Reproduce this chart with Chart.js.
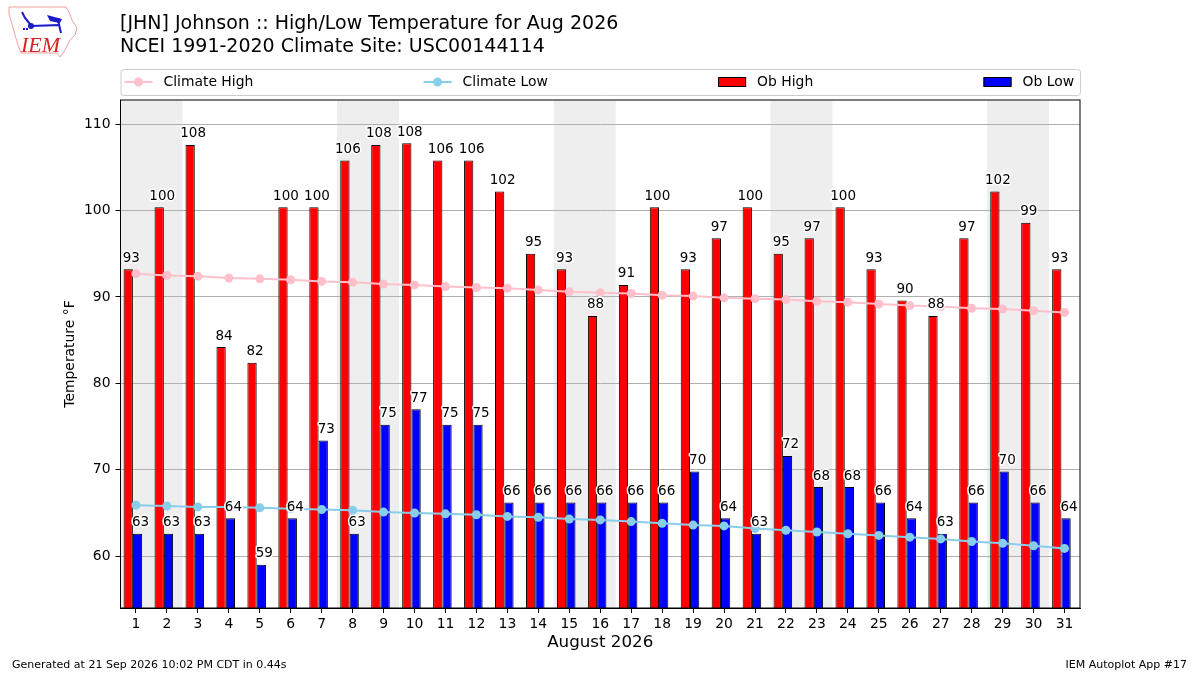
<!DOCTYPE html>
<html>
<head>
<meta charset="utf-8">
<title>[JHN] Johnson :: High/Low Temperature for Aug 2026</title>
<script src="https://cdn.jsdelivr.net/npm/chart.js@4.4.1/dist/chart.umd.min.js"></script>
<style>
  html, body { margin: 0; padding: 0; background: #ffffff; }
  #wrap { position: relative; width: 1200px; height: 675px; }
</style>
</head>
<body>
<div id="wrap"><canvas id="chart" width="1200" height="675"></canvas></div>
<script>
// values (deg F)
var days = [1, 2, 3, 4, 5, 6, 7, 8, 9, 10, 11, 12, 13, 14, 15, 16,
            17, 18, 19, 20, 21, 22, 23, 24, 25, 26, 27, 28, 29, 30, 31];

var obHigh = [93.2, 100.4, 107.6, 84.2, 82.4, 100.4, 100.4, 105.8, 107.6, 107.8, 105.8, 105.8, 102.2, 95.0, 93.2, 87.8,
              91.4, 100.4, 93.2, 96.8, 100.4, 95.0, 96.8, 100.4, 93.2, 89.6, 87.8, 96.8, 102.2, 98.6, 93.2];

var obLow = [62.6, 62.6, 62.6, 64.4, 59.0, 64.4, 73.4, 62.6, 75.2, 77.0, 75.2, 75.2, 66.2, 66.2, 66.2, 66.2,
             66.2, 66.2, 69.8, 64.4, 62.6, 71.6, 68.0, 68.0, 66.2, 64.4, 62.6, 66.2, 69.8, 66.2, 64.4];

var climateHigh = [92.7, 92.5, 92.4, 92.2, 92.1, 92.0, 91.8, 91.7, 91.5, 91.4, 91.2, 91.1, 91.0, 90.8, 90.6, 90.5,
                   90.4, 90.2, 90.1, 89.9, 89.8, 89.7, 89.5, 89.4, 89.2, 89.0, 88.9, 88.7, 88.6, 88.4, 88.2];

var climateLow = [65.9, 65.8, 65.7, 65.7, 65.6, 65.5, 65.4, 65.3, 65.1, 65.0, 64.9, 64.8, 64.6, 64.5, 64.3, 64.2,
                  64.0, 63.8, 63.6, 63.5, 63.2, 63.0, 62.8, 62.6, 62.4, 62.2, 62.0, 61.7, 61.5, 61.2, 60.9];

var titleLines = ['[JHN] Johnson :: High/Low Temperature for Aug 2026',
                  'NCEI 1991-2020 Climate Site: USC00144114'];
var footerLeft = 'Generated at 21 Sep 2026 10:02 PM CDT in 0.44s';
var footerRight = 'IEM Autoplot App #17';

var FONT = '"DejaVu Sans", "Liberation Sans", sans-serif';
Chart.defaults.font.family = FONT;
Chart.defaults.color = '#000';

// weekend shading (saturday + sunday), drawn under the grid
var weekendBands = {
    id: 'weekendBands',
    beforeDraw: function (chart) {
        var ctx = chart.ctx, area = chart.chartArea, xs = chart.scales.x;
        ctx.save();
        ctx.fillStyle = '#eeeeee';
        days.forEach(function (d) {
            if (new Date(2026, 7, d).getDay() !== 6) return;
            var x0 = Math.max(xs.getPixelForValue(d - 0.5), area.left);
            var x1 = Math.min(xs.getPixelForValue(d + 1.5), area.right);
            ctx.fillRect(x0, area.top, x1 - x0, area.bottom - area.top);
        });
        ctx.restore();
    }
};

// rounded value above every bar, with a white halo
var barLabels = {
    id: 'barLabels',
    afterDatasetsDraw: function (chart) {
        var ctx = chart.ctx;
        ctx.save();
        ctx.font = '13.5px ' + FONT;
        ctx.textAlign = 'center';
        ctx.textBaseline = 'alphabetic';
        ctx.lineJoin = 'round';
        chart.data.datasets.forEach(function (ds, i) {
            if (ds.type !== 'bar') return;
            chart.getDatasetMeta(i).data.forEach(function (bar, j) {
                var txt = String(Math.round(ds.data[j].y));
                var tx = bar.x + 3, ty = bar.y - 7.5;
                ctx.strokeStyle = '#ffffff';
                ctx.lineWidth = 3;
                ctx.strokeText(txt, tx, ty);
                ctx.fillStyle = '#000000';
                ctx.fillText(txt, tx, ty);
            });
        });
        ctx.restore();
    }
};

function drawLogo(ctx) {
    ctx.save();
    ctx.strokeStyle = '#f2a0a0';
    ctx.lineWidth = 1;
    ctx.beginPath();
    var pts = [[9, 7], [66, 7], [69, 12], [72, 20], [77, 28], [75, 35], [70, 40], [67, 46], [64, 52],
               [60, 57], [57, 53], [21, 53], [18, 45], [15, 35], [12, 24], [9, 14]];
    pts.forEach(function (p, i) { if (i === 0) ctx.moveTo(p[0], p[1]); else ctx.lineTo(p[0], p[1]); });
    ctx.closePath();
    ctx.stroke();

    ctx.strokeStyle = '#1a1acc';
    ctx.fillStyle = '#1a1acc';
    ctx.lineWidth = 2;
    ctx.beginPath();
    ctx.moveTo(31, 26); ctx.lineTo(60, 25);
    ctx.moveTo(22, 12); ctx.lineTo(25, 18); ctx.lineTo(30, 24);
    ctx.moveTo(58, 20); ctx.lineTo(61, 33);
    ctx.stroke();
    ctx.beginPath();
    ctx.moveTo(47, 15); ctx.lineTo(62, 19); ctx.lineTo(60, 23); ctx.lineTo(50, 21);
    ctx.closePath();
    ctx.fill();
    ctx.beginPath();
    ctx.arc(31, 26, 3, 0, Math.PI * 2);
    ctx.fill();
    ctx.fillRect(23, 28, 2, 2);
    ctx.fillRect(26, 28, 2, 2);

    ctx.fillStyle = '#dd2222';
    ctx.font = 'italic 22px "Liberation Serif", "DejaVu Serif", serif';
    ctx.textBaseline = 'alphabetic';
    ctx.textAlign = 'left';
    ctx.fillText('IEM', 21, 52);
    ctx.restore();
}

// frame, titles, legend box, footer, logo
var decorations = {
    id: 'decorations',
    afterDraw: function (chart) {
        var ctx = chart.ctx, area = chart.chartArea;
        ctx.save();

        ctx.strokeStyle = '#000';
        ctx.lineWidth = 1;
        ctx.strokeRect(area.left, area.top, area.right - area.left, area.bottom - area.top);

        ctx.fillStyle = '#000';
        ctx.textAlign = 'left';
        ctx.textBaseline = 'middle';
        ctx.font = '19px ' + FONT;
        ctx.fillText(titleLines[0], 120, 24);
        ctx.fillText(titleLines[1], 120, 47);

        // legend, spread over the width of the plot like an expanded legend
        var lx = area.left, ly = 69, lw = area.right - area.left, lh = 26;
        ctx.beginPath();
        ctx.roundRect(lx + 0.5, ly + 0.5, lw, lh, 3);
        ctx.fillStyle = 'rgba(255,255,255,0.8)';
        ctx.fill();
        ctx.strokeStyle = '#cccccc';
        ctx.stroke();

        var order = ['Climate High', 'Climate Low', 'Ob High', 'Ob Low'];
        var items = order.map(function (name) {
            return chart.data.datasets.filter(function (d) { return d.label === name; })[0];
        });
        ctx.font = '13.9px ' + FONT;
        var handle = 28, pad = 11;
        var widths = items.map(function (d) { return handle + pad + ctx.measureText(d.label).width; });
        var startX = lx + 4, endX = lx + lw - 6;
        var total = widths.reduce(function (a, b) { return a + b; }, 0);
        var gap = (endX - startX - total) / (items.length - 1);
        var cy = ly + 13;
        var cx = startX;
        items.forEach(function (d, i) {
            if (d.type === 'line') {
                ctx.strokeStyle = d.borderColor;
                ctx.lineWidth = 2;
                ctx.beginPath();
                ctx.moveTo(cx, cy); ctx.lineTo(cx + handle, cy);
                ctx.stroke();
                ctx.fillStyle = d.borderColor;
                ctx.beginPath();
                ctx.arc(cx + handle / 2, cy, 4.5, 0, Math.PI * 2);
                ctx.fill();
            } else {
                ctx.fillStyle = d.backgroundColor;
                ctx.fillRect(cx, cy - 4.5, handle, 9);
                ctx.strokeStyle = '#000';
                ctx.lineWidth = 1;
                ctx.strokeRect(cx + 0.5, cy - 4.5, handle - 1, 9);
            }
            ctx.fillStyle = '#000';
            ctx.textAlign = 'left';
            ctx.textBaseline = 'middle';
            ctx.fillText(d.label, cx + handle + pad, cy);
            cx += widths[i] + gap;
        });

        ctx.font = '11px ' + FONT;
        ctx.fillStyle = '#000';
        ctx.textBaseline = 'middle';
        ctx.textAlign = 'left';
        ctx.fillText(footerLeft, 12, 665);
        ctx.textAlign = 'right';
        ctx.fillText(footerRight, 1187, 665);

        drawLogo(ctx);
        ctx.restore();
    }
};

new Chart(document.getElementById('chart'), {
    type: 'bar',
    data: {
        datasets: [
            {
                type: 'bar',
                label: 'Ob High',
                data: days.map(function (d, i) { return { x: d - 0.1, y: obHigh[i] }; }),
                backgroundColor: '#ff0000',
                borderColor: '#000000',
                borderWidth: 1,
                borderSkipped: false,
                categoryPercentage: 0.6,
                barPercentage: 1.0,
                order: 2
            },
            {
                type: 'bar',
                label: 'Ob Low',
                data: days.map(function (d, i) { return { x: d - 0.1, y: obLow[i] }; }),
                backgroundColor: '#0000ff',
                borderColor: '#000000',
                borderWidth: 1,
                borderSkipped: false,
                categoryPercentage: 0.6,
                barPercentage: 1.0,
                order: 2
            },
            {
                type: 'line',
                label: 'Climate High',
                data: days.map(function (d, i) { return { x: d, y: climateHigh[i] }; }),
                borderColor: '#ffc0cb',
                backgroundColor: '#ffc0cb',
                pointBackgroundColor: '#ffc0cb',
                pointBorderColor: '#ffc0cb',
                pointRadius: 4.5,
                pointBorderWidth: 0,
                borderWidth: 2,
                tension: 0,
                order: 1
            },
            {
                type: 'line',
                label: 'Climate Low',
                data: days.map(function (d, i) { return { x: d, y: climateLow[i] }; }),
                borderColor: '#87ceeb',
                backgroundColor: '#87ceeb',
                pointBackgroundColor: '#87ceeb',
                pointBorderColor: '#87ceeb',
                pointRadius: 4.5,
                pointBorderWidth: 0,
                borderWidth: 2,
                tension: 0,
                order: 1
            }
        ]
    },
    options: {
        responsive: false,
        animation: false,
        devicePixelRatio: 1,
        layout: { padding: { left: 62, right: 120, top: 100, bottom: 22 } },
        plugins: {
            legend: { display: false },
            tooltip: { enabled: false }
        },
        scales: {
            x: {
                type: 'linear',
                min: 0.5,
                max: 31.5,
                offset: false,
                afterBuildTicks: function (scale) {
                    scale.ticks = days.map(function (d) { return { value: d }; });
                },
                ticks: {
                    autoSkip: false,
                    maxRotation: 0,
                    color: '#000',
                    font: { size: 13.9 },
                    padding: 3
                },
                grid: { drawOnChartArea: false, offset: false, tickLength: 5, tickColor: '#000' },
                border: { color: '#000' },
                title: {
                    display: true,
                    text: 'August 2026',
                    color: '#000',
                    font: { size: 16.7 },
                    padding: { top: 0, bottom: 0 }
                },
                afterFit: function (scale) { scale.height = 45; }
            },
            y: {
                min: 54,
                max: 112.8,
                ticks: {
                    stepSize: 10,
                    includeBounds: false,
                    color: '#000',
                    font: { size: 13.9 },
                    padding: 5
                },
                grid: { color: '#b0b0b0', tickColor: '#000', tickLength: 5 },
                border: { color: '#000' },
                title: {
                    display: true,
                    text: 'Temperature °F',
                    color: '#000',
                    font: { size: 13.9 },
                    padding: { top: 0, bottom: 0 }
                },
                afterFit: function (scale) { scale.width = 58.5; }
            }
        }
    },
    plugins: [weekendBands, barLabels, decorations]
});
</script>
</body>
</html>
